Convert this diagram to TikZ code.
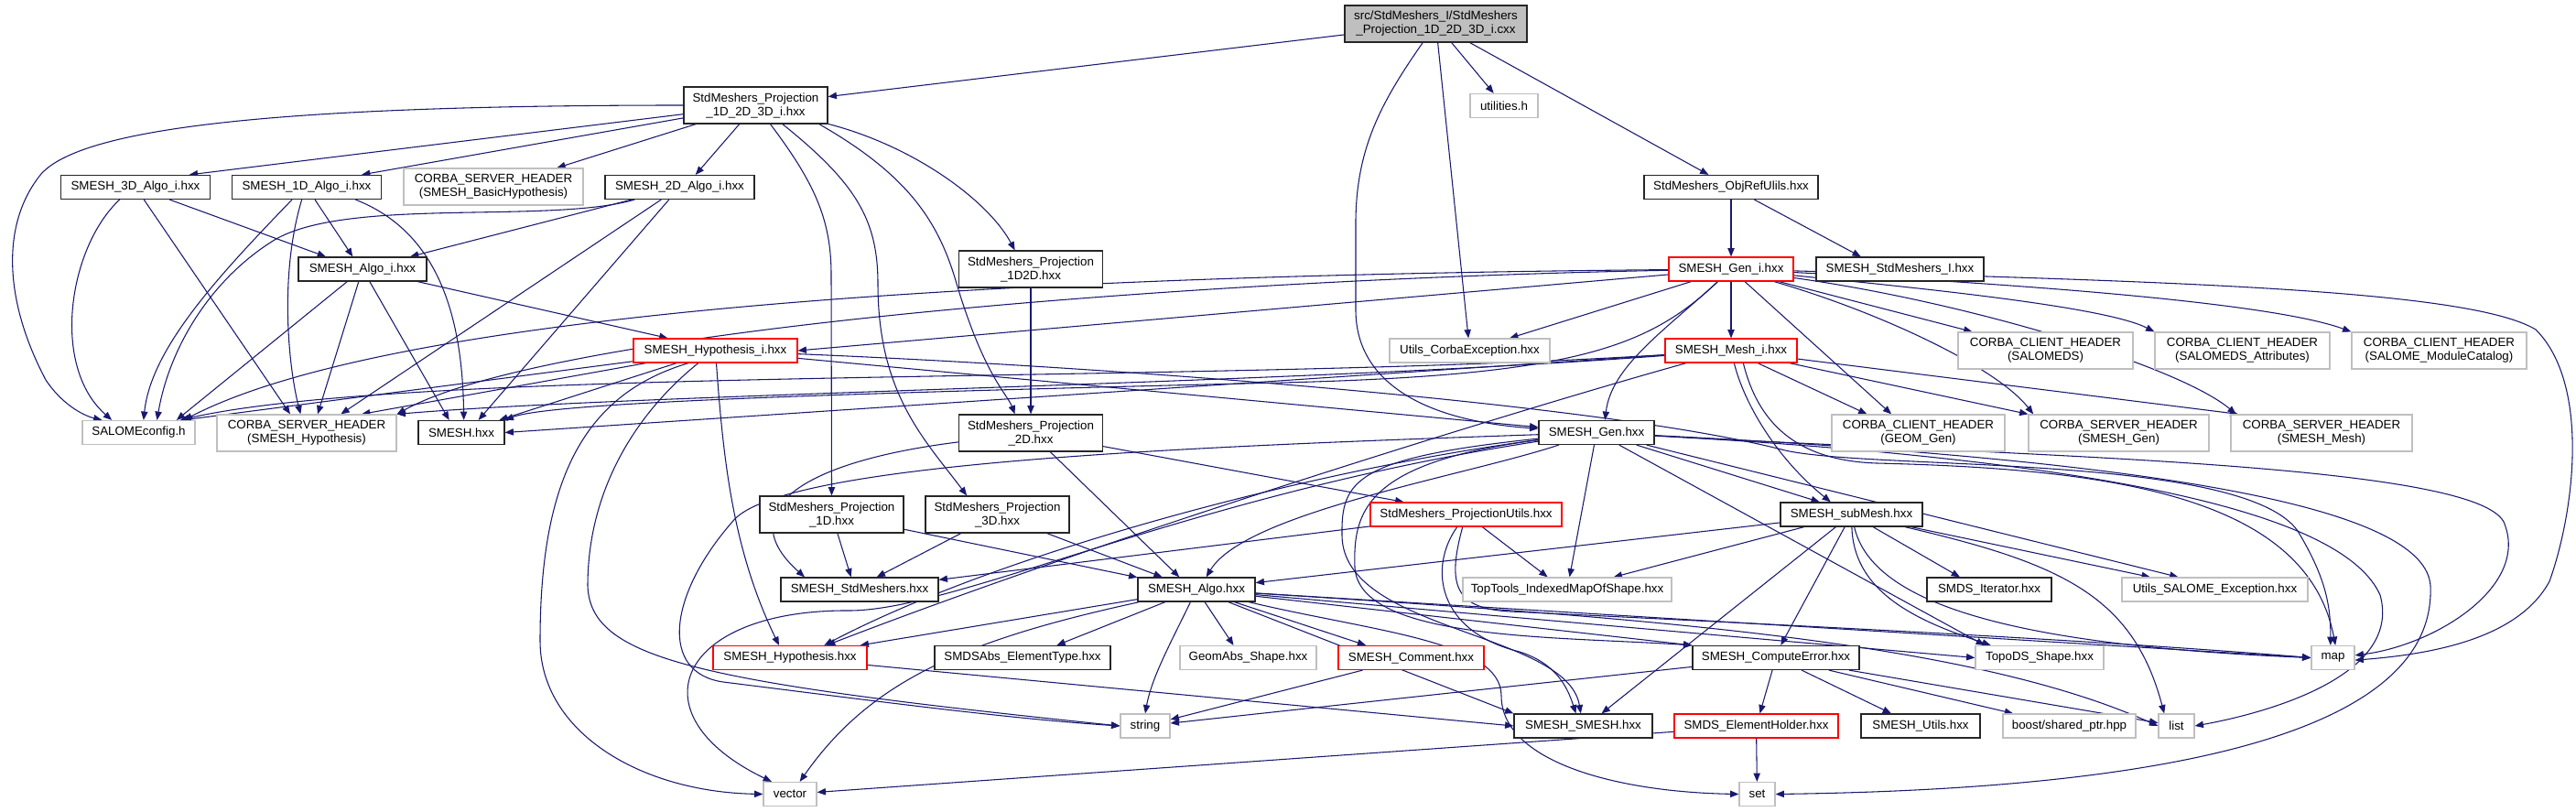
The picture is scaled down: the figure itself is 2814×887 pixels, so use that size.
\documentclass[tikz,border=0pt]{standalone}
\usepackage{fontspec}
\setmainfont{Liberation Sans}
\usetikzlibrary{arrows.meta,backgrounds}
\definecolor{edgec}{RGB}{25,25,112}
\definecolor{grayb}{RGB}{191,191,191}
\definecolor{rootf}{RGB}{191,191,191}
\newcommand{\nodefont}{\fontsize{10}{11.25}\selectfont}
\tikzset{
  nb/.style={draw=black!85,line width=0.9pt,fill=white,inner sep=1pt,align=center,font=\nodefont,minimum height=19.5pt},
  ng/.style={nb,draw=grayb},
  nr/.style={nb,draw=red},
  tall/.style={minimum height=30pt},
  edg/.style={draw=edgec,line width=0.8pt,-{Triangle[length=7pt,width=5.5pt]}}
}
\begin{document}
\begin{tikzpicture}[x=0.75pt,y=-0.75pt]
\path[use as bounding box] (0,0) rectangle (2814,887);
% nodes
\node[nb,tall,fill=rootf,minimum width=149.25pt] (root) at (1568.5,26) {src/StdMeshers\_I/StdMeshers\\\_Projection\_1D\_2D\_3D\_i.cxx};
\node[nb,tall,minimum width=117.75pt] (P123) at (825.5,115) {StdMeshers\_Projection\\\_1D\_2D\_3D\_i.hxx};
\node[ng,minimum width=55.5pt] (util) at (1643,115.5) {utilities.h};
\node[nb,minimum width=142.5pt] (ObjRef) at (1891,204.5) {StdMeshers\_ObjRefUlils.hxx};
\node[nb,minimum width=122.25pt] (A3D) at (148,204.5) {SMESH\_3D\_Algo\_i.hxx};
\node[nb,minimum width=122.25pt] (A1D) at (335,204.5) {SMESH\_1D\_Algo\_i.hxx};
\node[ng,tall,minimum width=147pt] (CSBH) at (539,204) {CORBA\_SERVER\_HEADER\\(SMESH\_BasicHypothesis)};
\node[nb,minimum width=122.25pt] (A2D) at (742.5,204.5) {SMESH\_2D\_Algo\_i.hxx};
\node[nb,minimum width=105pt] (Algoi) at (396,294) {SMESH\_Algo\_i.hxx};
\node[nb,tall,minimum width=117.75pt] (P1D2D) at (1126,294) {StdMeshers\_Projection\\\_1D2D.hxx};
\node[nr,minimum width=102pt] (Geni) at (1891,294) {SMESH\_Gen\_i.hxx};
\node[nb,minimum width=137.25pt] (StdI) at (2075.5,294) {SMESH\_StdMeshers\_I.hxx};
\node[nr,minimum width=134.25pt] (Hypi) at (781.5,383) {SMESH\_Hypothesis\_i.hxx};
\node[ng,minimum width=131.25pt] (UCE) at (1605.5,383) {Utils\_CorbaException.hxx};
\node[nr,minimum width=108pt] (Meshi) at (1891,383) {SMESH\_Mesh\_i.hxx};
\node[ng,tall,minimum width=143.25pt] (CCS) at (2234.5,383) {CORBA\_CLIENT\_HEADER\\(SALOMEDS)};
\node[ng,tall,minimum width=143.25pt] (CCA) at (2449.5,383) {CORBA\_CLIENT\_HEADER\\(SALOMEDS\_Attributes)};
\node[ng,tall,minimum width=143.25pt] (CCM) at (2664.5,383) {CORBA\_CLIENT\_HEADER\\(SALOME\_ModuleCatalog)};
\node[ng,minimum width=92.25pt] (SC) at (151.5,472.5) {SALOMEconfig.h};
\node[ng,tall,minimum width=147pt] (CSH) at (335,473) {CORBA\_SERVER\_HEADER\\(SMESH\_Hypothesis)};
\node[nb,minimum width=70.5pt] (SMH) at (504,472.5) {SMESH.hxx};
\node[nb,tall,minimum width=117.75pt] (P2D) at (1126,473) {StdMeshers\_Projection\\\_2D.hxx};
\node[nb,minimum width=94.5pt] (Gen) at (1744,472.5) {SMESH\_Gen.hxx};
\node[ng,tall,minimum width=141.75pt] (CCG) at (2095.5,473) {CORBA\_CLIENT\_HEADER\\(GEOM\_Gen)};
\node[ng,tall,minimum width=147.75pt] (CSG) at (2314.5,473) {CORBA\_SERVER\_HEADER\\(SMESH\_Gen)};
\node[ng,tall,minimum width=148.5pt] (CSM) at (2536,473) {CORBA\_SERVER\_HEADER\\(SMESH\_Mesh)};
\node[nb,tall,minimum width=117.75pt] (P1D) at (908.5,562) {StdMeshers\_Projection\\\_1D.hxx};
\node[nb,tall,minimum width=117.75pt] (P3D) at (1089.5,562) {StdMeshers\_Projection\\\_3D.hxx};
\node[nr,minimum width=156.75pt] (PU) at (1601.5,562) {StdMeshers\_ProjectionUtils.hxx};
\node[nb,minimum width=116.25pt] (SubM) at (2022.5,562) {SMESH\_subMesh.hxx};
\node[nb,minimum width=129pt] (StdM) at (939,644) {SMESH\_StdMeshers.hxx};
\node[nb,minimum width=96pt] (Algo) at (1307,644) {SMESH\_Algo.hxx};
\node[ng,minimum width=171pt] (TT) at (1712,644) {TopTools\_IndexedMapOfShape.hxx};
\node[nb,minimum width=102pt] (SIt) at (2173,644) {SMDS\_Iterator.hxx};
\node[ng,minimum width=152.25pt] (USE) at (2419.5,644) {Utils\_SALOME\_Exception.hxx};
\node[nr,minimum width=126pt] (Hyp) at (863,718.5) {SMESH\_Hypothesis.hxx};
\node[nb,minimum width=144pt] (SET) at (1117,718.5) {SMDSAbs\_ElementType.hxx};
\node[ng,minimum width=111.75pt] (GAS) at (1363.5,718.5) {GeomAbs\_Shape.hxx};
\node[nr,minimum width=119.25pt] (Com) at (1541.5,718.5) {SMESH\_Comment.hxx};
\node[nb,minimum width=136.5pt] (CE) at (1940,718.5) {SMESH\_ComputeError.hxx};
\node[ng,minimum width=105pt] (TDS) at (2228,718.5) {TopoDS\_Shape.hxx};
\node[ng,minimum width=35.25pt] (nmap) at (2548.5,718.5) {map};
\node[ng,minimum width=40.5pt] (nstr) at (1251,793) {string};
\node[nb,minimum width=113.25pt] (SS) at (1729.5,793) {SMESH\_SMESH.hxx};
\node[nr,minimum width=134.25pt] (EH) at (1918.5,793) {SMDS\_ElementHolder.hxx};
\node[nb,minimum width=97.5pt] (SU) at (2098,793) {SMESH\_Utils.hxx};
\node[ng,minimum width=108.75pt] (boost) at (2260.5,793) {boost/shared\_ptr.hpp};
\node[ng,minimum width=29.25pt] (nlist) at (2377.5,793) {list};
\node[ng,minimum width=43.5pt] (nvec) at (863,867.5) {vector};
\node[ng,minimum width=29.25pt] (nset) at (1919.5,867.5) {set};
\begin{pgfonlayer}{background}
\fill[white] (0,0) rectangle (2814,887);
% root
\draw[edg] (root) -- (P123);
\draw[edg] (root) .. controls (1510,110) and (1482,160) .. (1481,240) -- (1481,340) .. controls (1482,420) and (1560,460) .. (Gen);
\draw[edg] (root) -- (UCE);
\draw[edg] (root) -- (util);
\draw[edg] (root) -- (ObjRef);
% P123
\draw[edg] (P123) .. controls (300,115) and (90,140) .. (45,190) .. controls (0,245) and (5,330) .. (50,415) .. controls (70,445) and (95,455) .. ([xshift=-30pt]SC.north);
\draw[edg] (P123) -- ([xshift=44pt]A3D.north);
\draw[edg] (P123) -- ([xshift=45pt]A1D.north);
\draw[edg] (P123) -- ([xshift=52pt]CSBH.north);
\draw[edg] (P123) -- ([xshift=13pt]A2D.north);
\draw[edg] (P123) .. controls (1000,160) and (1080,220) .. ([xshift=-13pt]P1D2D.north);
\draw[edg] ([xshift=12pt]P123.south) .. controls (890,200) and (908,240) .. (908,300) -- (P1D.north);
\draw[edg] ([xshift=22pt]P123.south) .. controls (935,200) and (959,240) .. (959,310) .. controls (959,430) and (1010,480) .. ([xshift=-25pt]P3D.north);
\draw[edg] ([xshift=52pt]P123.south) .. controls (990,190) and (1025,240) .. (1045,310) .. controls (1075,410) and (1100,430) .. ([xshift=-13pt]P2D.north);
% A3D
\draw[edg] ([xshift=-13pt]A3D.south) .. controls (75,270) and (55,400) .. ([xshift=-22pt]SC.north);
\draw[edg] (A3D) -- ([xshift=-13.5pt]CSH.north);
\draw[edg] (A3D) -- ([xshift=-30pt]Algoi.north);
% A1D
\draw[edg] ([xshift=-12pt]A1D.south) .. controls (240,300) and (165,380) .. ([xshift=4pt]SC.north);
\draw[edg] ([xshift=-4pt]A1D.south) .. controls (305,300) and (315,400) .. ([xshift=-5pt]CSH.north);
\draw[edg] (A1D) -- ([xshift=-8pt]Algoi.north);
\draw[edg] ([xshift=40pt]A1D.south) .. controls (470,250) and (505,330) .. ([xshift=2pt]SMH.north);
% A2D
\draw[edg] ([xshift=-37pt]A2D.south) .. controls (600,245) and (380,215) .. (300,262) .. controls (230,305) and (185,380) .. ([xshift=15pt]SC.north);
\draw[edg] (A2D) -- ([xshift=39pt]Algoi.north);
\draw[edg] (A2D) -- ([xshift=28pt]CSH.north);
\draw[edg] (A2D) -- ([xshift=14pt]SMH.north);
% Algoi
\draw[edg] (Algoi) -- ([xshift=31pt]SC.north);
\draw[edg] (Algoi) -- ([xshift=9pt]CSH.north);
\draw[edg] (Algoi) -- ([xshift=-10pt]SMH.north);
\draw[edg] (Algoi) -- ([xshift=-39pt]Hypi.north);
% Hypi
\draw[edg] (Hypi) -- ([xshift=36pt]SC.north);
\draw[edg] (Hypi) -- ([xshift=45pt]CSH.north);
\draw[edg] (Hypi) -- ([xshift=31pt]SMH.north);
\draw[edg] (Hypi) .. controls (790,500) and (800,600) .. ([xshift=-9pt]Hyp.north);
\draw[edg] ([xshift=-14pt]Hypi.south) .. controls (700,447) and (642,530) .. (642,640) .. controls (645,720) and (760,745) .. (nstr.west);
\draw[edg] ([xshift=-22pt]Hypi.south) .. controls (640,430) and (590,520) .. (590,700) .. controls (590,800) and (700,865) .. (nvec.west);
\draw[edg] (Hypi) .. controls (1200,400) and (1750,440) .. (1950,492) .. controls (2050,514) and (2450,495) .. (2510,580) .. controls (2540,630) and (2546,660) .. ([xshift=-2pt]nmap.north);
\draw[edg] (Hypi) -- (Gen);
% projections
\draw[edg] (P1D2D) -- (P2D);
\draw[edg] (P2D) .. controls (870,505) and (800,560) .. ([xshift=-45pt]StdM.north);
\draw[edg] (P2D) -- ([xshift=-14pt]Algo.north);
\draw[edg] (P2D) -- ([xshift=-51pt]PU.north);
\draw[edg] (P1D) -- ([xshift=-7pt]StdM.north);
\draw[edg] (P1D) -- (Algo);
\draw[edg] (P3D) -- ([xshift=14pt]StdM.north);
\draw[edg] (P3D) -- ([xshift=-28pt]Algo.north);
% PU
\draw[edg] (PU) -- (StdM);
\draw[edg] (PU) -- ([xshift=-16pt]TT.north);
\draw[edg] (PU) .. controls (1560,620) and (1570,690) .. (1660,712) .. controls (1700,725) and (1712,750) .. ([xshift=-6pt]SS.north);
\draw[edg] (PU) .. controls (1580,640) and (1590,665) .. (1650,668) .. controls (2000,685) and (2300,700) .. (nmap.west);
% Gen
\draw[edg] (Gen) .. controls (1450,510) and (1100,600) .. ([xshift=28pt]Hyp.north);
\draw[edg] (Gen) .. controls (1300,540) and (1050,665) .. (930,667) .. controls (740,665) and (690,780) .. ([xshift=-15pt]nvec.north);
\draw[edg] (Gen) .. controls (1300,488) and (850,505) .. (800,570) .. controls (730,650) and (720,735) .. (790,745) .. controls (950,765) and (1100,785) .. (nstr.west);
\draw[edg] (Gen) .. controls (1480,500) and (1465,525) .. (1466,585) .. controls (1467,690) and (1712,690) .. ([xshift=-2pt]SS.north);
\draw[edg] (Gen) .. controls (1490,505) and (1478,560) .. (1480,620) .. controls (1485,700) and (1700,695) .. (CE.north west);
\draw[edg] (Gen) -- (TT);
\draw[edg] (Gen) -- ([xshift=-45pt]TDS.north);
\draw[edg] (Gen) -- ([xshift=-26pt]SubM.north);
\draw[edg] (Gen) -- ([xshift=-30pt]USE.north);
\draw[edg] (Gen) .. controls (2200,498) and (2700,505) .. (2735,570) .. controls (2765,640) and (2660,705) .. ([yshift=2pt]nmap.east);
\draw[edg] (Gen) .. controls (2300,503) and (2560,560) .. (2600,650) .. controls (2625,740) and (2470,780) .. (nlist.east);
\draw[edg] (Gen) .. controls (2400,505) and (2650,560) .. (2655,640) .. controls (2660,760) and (2500,860) .. (nset.east);
\draw[edg] (Gen) .. controls (1600,520) and (1360,560) .. ([xshift=8pt]Algo.north);
% Algo
\draw[edg] (Algo) -- ([xshift=-6pt]Hyp.north east);
\draw[edg] (Algo) .. controls (1050,700) and (950,745) .. ([xshift=8pt]nvec.north);
\draw[edg] (Algo) -- ([xshift=28pt]SET.north);
\draw[edg] (Algo) .. controls (1280,700) and (1258,740) .. (nstr.north);
\draw[edg] (Algo) -- ([xshift=-12pt]GAS.north);
\draw[edg] (Algo) -- ([xshift=-37pt]Com.north);
\draw[edg] (Algo) -- (CE.north west);
\draw[edg] (Algo) -- (SS.north west);
\draw[edg] (Algo) .. controls (1500,690) and (1640,700) .. (1640,760) .. controls (1640,830) and (1760,865) .. (nset.west);
\draw[edg] (Algo) -- (nmap.west);
\draw[edg] (Algo) .. controls (1800,675) and (2150,700) .. (nlist.west);
\draw[edg] (Algo) -- (TDS.west);
% SubM
\draw[edg] (SubM) -- (Algo);
\draw[edg] (SubM) -- ([xshift=38pt]TT.north);
\draw[edg] (SubM) -- ([xshift=15pt]SS.north);
\draw[edg] (SubM) -- ([xshift=4pt]CE.north);
\draw[edg] (SubM) -- ([xshift=-24pt]SIt.north);
\draw[edg] (SubM) -- ([xshift=-53pt]USE.north);
\draw[edg] (SubM) .. controls (2250,615) and (2330,650) .. ([xshift=-10pt]nlist.north);
\draw[edg] (SubM) .. controls (2025,650) and (2100,680) .. ([xshift=-40pt]TDS.north);
\draw[edg] (SubM) .. controls (2045,660) and (2200,705) .. (nmap.west);
% misc
\draw[edg] (Hyp) -- (SS.west);
\draw[edg] (Com) -- (nstr);
\draw[edg] (CE) -- (nstr);
\draw[edg] (CE) -- (EH);
\draw[edg] (CE) -- ([xshift=-24pt]SU.north);
\draw[edg] (CE) -- ([xshift=-46pt]boost.north);
\draw[edg] (CE) -- (nlist);
\draw[edg] (EH) -- (nset);
\draw[edg] (EH) -- (nvec);
\draw[edg] (ObjRef) -- (Geni);
\draw[edg] (ObjRef) -- ([xshift=-32pt]StdI.north);
% Geni
\draw[edg] (Geni) .. controls (1200,300) and (450,330) .. ([xshift=37pt]SC.north);
\draw[edg] (Geni) .. controls (1300,305) and (600,360) .. (CSH.north east);
\draw[edg] (Geni) -- (Hypi.east);
\draw[edg] (Geni) -- (UCE);
\draw[edg] (Geni) .. controls (1820,360) and (1760,400) .. ([xshift=7pt]Gen.north);
\draw[edg] (Geni) .. controls (1800,380) and (1720,410) .. (1400,418) .. controls (900,430) and (600,440) .. (SMH.north east);
\draw[edg] (Geni) -- (Meshi);
\draw[edg] (Geni) -- ([xshift=-22pt]CCG.north);
\draw[edg] (Geni) .. controls (2050,340) and (2180,400) .. ([xshift=-70pt]CSG.north);
\draw[edg] (Geni) .. controls (2150,330) and (2380,400) .. ([xshift=-70pt]CSM.north);
\draw[edg] (Geni) -- ([xshift=-60pt]CCS.north);
\draw[edg] (Geni) .. controls (2100,315) and (2300,335) .. (CCA.north west);
\draw[edg] (Geni) .. controls (2200,310) and (2480,330) .. (CCM.north west);
\draw[edg] (Geni) .. controls (2400,308) and (2700,318) .. (2770,360) .. controls (2830,420) and (2812,560) .. (2785,635) .. controls (2750,700) and (2650,715) .. ([yshift=-2pt]nmap.east);
% Meshi
\draw[edg] (Meshi) .. controls (1300,420) and (450,400) .. ([xshift=34pt]SC.north);
\draw[edg] (Meshi) -- (SMH.east);
\draw[edg] (Meshi) .. controls (1400,420) and (700,430) .. (CSH.north east);
\draw[edg] (Meshi) .. controls (1650,450) and (1200,590) .. ([xshift=30pt]Hyp.north);
\draw[edg] (Meshi) .. controls (1905,440) and (1940,500) .. ([xshift=-17pt]SubM.north);
\draw[edg] (Meshi) -- ([xshift=-42pt]CCG.north);
\draw[edg] (Meshi) -- (CSG.north west);
\draw[edg] (Meshi) -- ([xshift=-68pt]CSM.north);
\draw[edg] ([xshift=10pt]Meshi.south) .. controls (1920,460) and (1960,503) .. (2050,506) .. controls (2300,512) and (2520,540) .. ([xshift=2pt]nmap.north);
\end{pgfonlayer}
\end{tikzpicture}
\end{document}
